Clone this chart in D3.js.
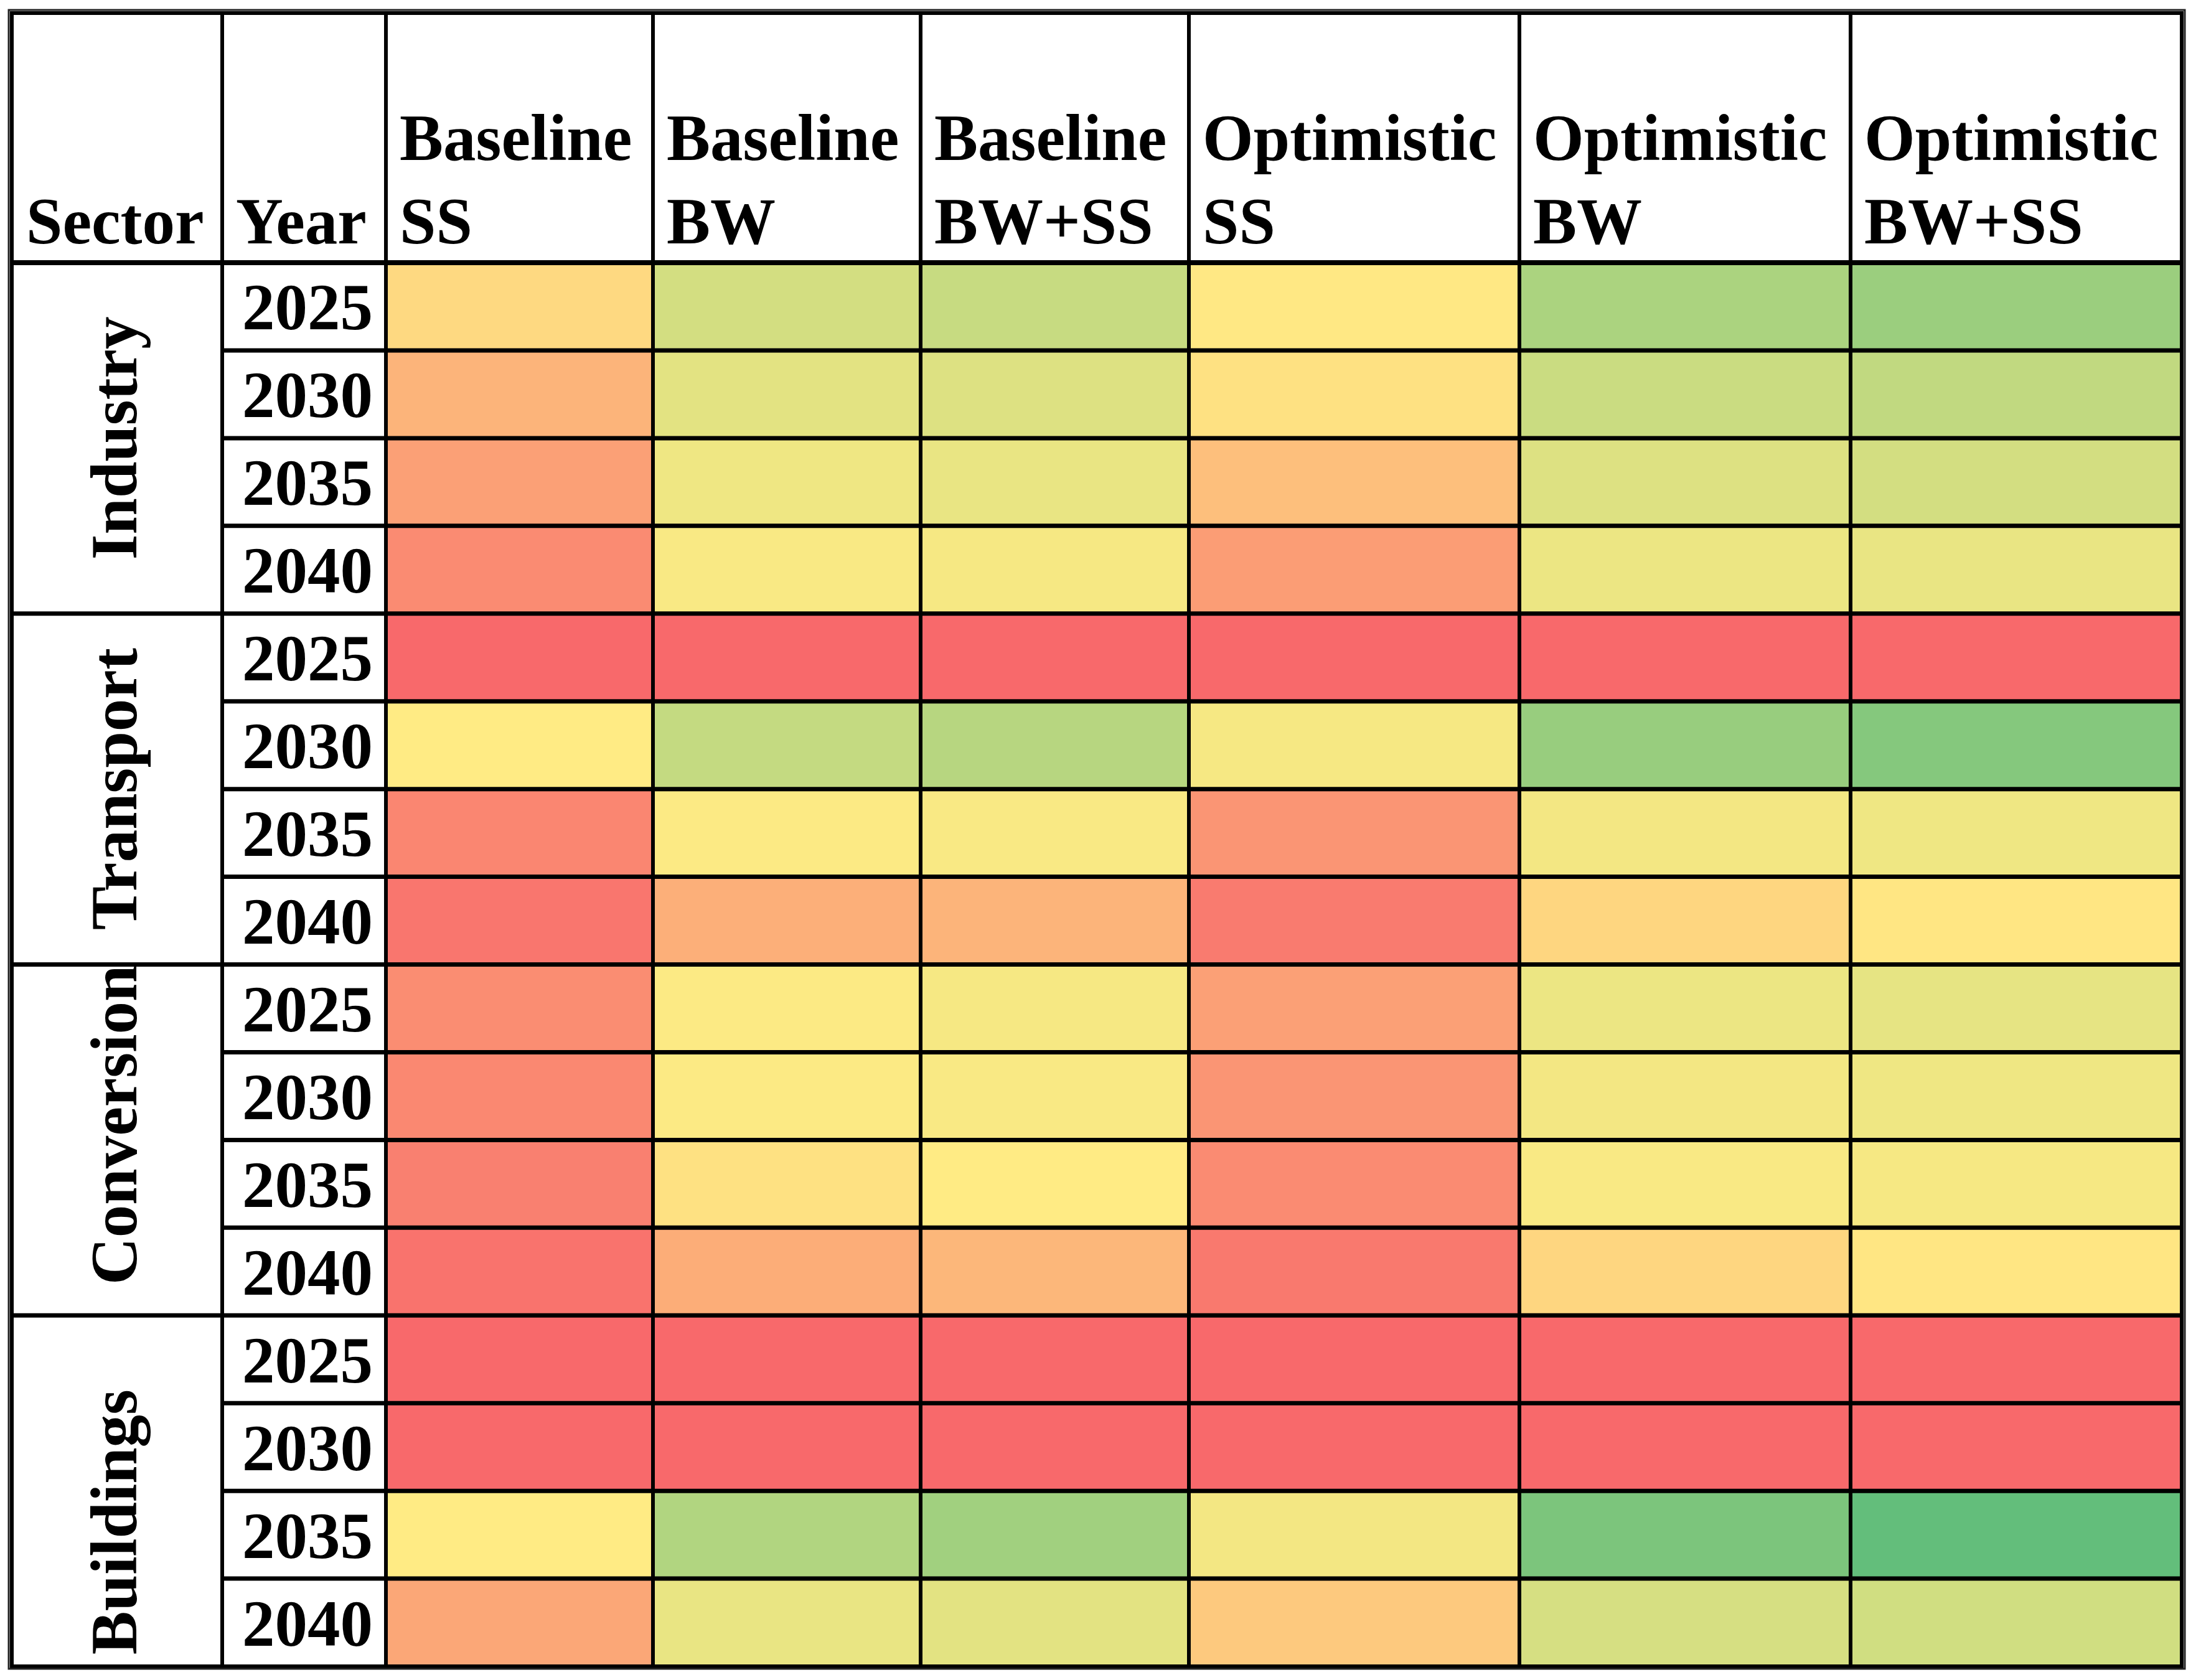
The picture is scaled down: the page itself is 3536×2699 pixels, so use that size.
<!DOCTYPE html>
<meta charset="utf-8">
<style>
body { margin: 0; background: #fff; }
text {
  font-family: "Liberation Serif", "Times New Roman", serif;
  font-weight: bold;
  fill: #000;
}
</style>
<body>
<svg width="3536" height="2699"></svg>
<script src="https://d3js.org/d3.v7.min.js"></script>
<script>

var sectors = ["Industry", "Transport", "Conversion", "Buildings"];
var years = ["2025", "2030", "2035", "2040"];
var scenarios = ["Baseline SS", "Baseline BW", "Baseline BW+SS",
                 "Optimistic SS", "Optimistic BW", "Optimistic BW+SS"];

// score read off the colour scale: 0 = red, 50 = yellow, 100 = green
// one row per year, one value per scenario
var industry = [
  [43, 64, 68, 49, 77, 82],
  [29, 59, 61, 46, 67, 70],
  [21, 55, 57, 33, 61, 64],
  [13, 52, 53, 20, 56, 57]
];
var transport = [
  [0, 0, 0, 0, 0, 0],
  [50, 69, 73, 53, 83, 89],
  [11, 51, 52, 17, 54, 55],
  [5, 27, 29, 7, 42, 48]
];
var conversion = [
  [14, 51, 53, 21, 56, 58],
  [12, 51, 52, 17, 54, 55],
  [9, 46, 50, 13, 52, 53],
  [4, 26, 30, 6, 42, 48]
];
var buildings = [
  [0, 0, 0, 0, 0, 0],
  [0, 0, 0, 0, 0, 0],
  [50, 75, 80, 54, 92, 100],
  [24, 57, 59, 37, 63, 65]
];

var scores = { Industry: industry, Transport: transport, Conversion: conversion, Buildings: buildings };

var svg = d3.select("svg");

// table frame
var tLeft = 19, tRight = 3505, tTop = 21, headBottom = 422, tBottom = 2677;
var colEdges = [19, 357, 620, 1049, 1479, 1910, 2441, 2973, 3505];
var fontSize = 105;

var color = d3.scaleLinear()
    .domain([0, 50, 100])
    .range(["#F8696B", "#FFEB84", "#63BE7B"]);

var rowKeys = [];
sectors.forEach(function (s) {
    years.forEach(function (y) { rowKeys.push(s + "|" + y); });
});

var y = d3.scaleBand()
    .domain(rowKeys)
    .range([headBottom, tBottom]);

var cells = [];
sectors.forEach(function (s) {
    years.forEach(function (yr, i) {
        scenarios.forEach(function (sc, j) {
            cells.push({ sector: s, year: yr, col: j, value: scores[s][i][j] });
        });
    });
});

svg.append("rect")
    .attr("width", 3536).attr("height", 2699)
    .attr("fill", "#fff");

// heat cells
svg.append("g").selectAll("rect")
    .data(cells)
    .enter().append("rect")
    .attr("x", function (d) { return colEdges[d.col + 2]; })
    .attr("width", function (d) { return colEdges[d.col + 3] - colEdges[d.col + 2]; })
    .attr("y", function (d) { return y(d.sector + "|" + d.year); })
    .attr("height", y.bandwidth())
    .attr("fill", function (d) { return color(d.value); });

// grid lines
var lines = svg.append("g").attr("stroke", "#000");

colEdges.slice(1, -1).forEach(function (x) {
    lines.append("line")
        .attr("x1", x).attr("x2", x)
        .attr("y1", tTop).attr("y2", tBottom)
        .attr("stroke-width", 6);
});

lines.append("line")
    .attr("x1", tLeft).attr("x2", tRight)
    .attr("y1", headBottom).attr("y2", headBottom)
    .attr("stroke-width", 8);

rowKeys.forEach(function (k, i) {
    if (i === 0) return;
    var firstOfSector = i % years.length === 0;
    lines.append("line")
        .attr("x1", firstOfSector ? tLeft : colEdges[1])
        .attr("x2", tRight)
        .attr("y1", y(k)).attr("y2", y(k))
        .attr("stroke-width", 7);
});

// double outer border
svg.append("rect")
    .attr("x", tLeft).attr("y", tTop)
    .attr("width", tRight - tLeft).attr("height", tBottom - tTop)
    .attr("fill", "none").attr("stroke", "#000").attr("stroke-width", 6);
svg.append("rect")
    .attr("x", tLeft - 5).attr("y", tTop - 5)
    .attr("width", tRight - tLeft + 10).attr("height", tBottom - tTop + 9)
    .attr("fill", "none").attr("stroke", "#222").attr("stroke-width", 3);

// header text
var head = svg.append("g").style("font-size", fontSize + "px");

head.append("text").attr("x", colEdges[0] + 23).attr("y", 391).text("Sector");
head.append("text").attr("x", colEdges[1] + 22).attr("y", 391).text("Year");

scenarios.forEach(function (sc, j) {
    var parts = sc.split(" ");
    var t = head.append("text").attr("x", colEdges[j + 2] + 22);
    t.append("tspan").attr("x", colEdges[j + 2] + 22).attr("y", 257).text(parts[0]);
    t.append("tspan").attr("x", colEdges[j + 2] + 22).attr("y", 391).text(parts[1]);
});

// year labels
svg.append("g").style("font-size", fontSize + "px")
    .selectAll("text")
    .data(rowKeys)
    .enter().append("text")
    .attr("x", colEdges[2] - 21)
    .attr("y", function (k) { return y(k) + y.bandwidth() / 2 + 37; })
    .attr("text-anchor", "end")
    .text(function (k) { return k.split("|")[1]; });

// sector labels, rotated
var nudge = { Conversion: -24, Buildings: 50 };
svg.append("g").style("font-size", fontSize + "px")
    .selectAll("text")
    .data(sectors)
    .enter().append("text")
    .attr("text-anchor", "middle")
    .attr("transform", function (s) {
        var y0 = y(s + "|" + years[0]);
        var y1 = y(s + "|" + years[years.length - 1]) + y.bandwidth();
        var cy = (y0 + y1) / 2 + (nudge[s] || 0);
        return "translate(219," + cy + ") rotate(-90)";
    })
    .text(function (s) { return s; });

</script>
</body>
</html>
